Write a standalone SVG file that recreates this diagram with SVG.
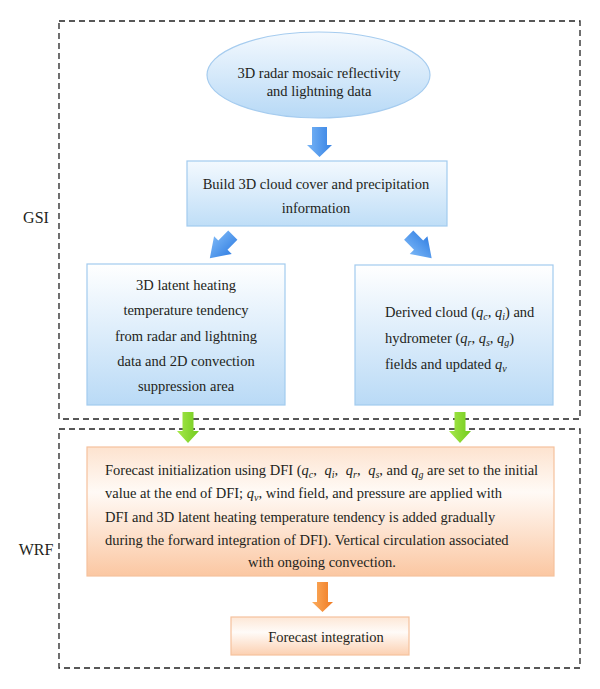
<svg xmlns="http://www.w3.org/2000/svg" width="600" height="689" viewBox="0 0 600 689">
<defs>
<linearGradient id="gBlue" x1="0" y1="0" x2="0" y2="1">
<stop offset="0" stop-color="#ffffff"/>
<stop offset="1" stop-color="#b9daf6"/>
</linearGradient>
<linearGradient id="gEll" x1="0" y1="0" x2="0" y2="1">
<stop offset="0" stop-color="#f4f9fe"/>
<stop offset="1" stop-color="#b7d9f6"/>
</linearGradient>
<linearGradient id="gBuild" x1="0" y1="0" x2="0" y2="1">
<stop offset="0" stop-color="#f3f9fe"/>
<stop offset="1" stop-color="#bfdef7"/>
</linearGradient>
<linearGradient id="gOrange" x1="0" y1="0" x2="0" y2="1">
<stop offset="0" stop-color="#fde3cf"/>
<stop offset="0.35" stop-color="#fffaf6"/>
<stop offset="1" stop-color="#fbc7a2"/>
</linearGradient>
<linearGradient id="gOrange2" x1="0" y1="0" x2="0" y2="1">
<stop offset="0" stop-color="#fde7d6"/>
<stop offset="0.4" stop-color="#fffbf8"/>
<stop offset="1" stop-color="#fcd0b1"/>
</linearGradient>
<linearGradient id="aBlue" x1="0" y1="0" x2="1" y2="0">
<stop offset="0" stop-color="#78b5f6"/>
<stop offset="1" stop-color="#3682e4"/>
</linearGradient>
<linearGradient id="aGreen" x1="0" y1="0" x2="1" y2="0">
<stop offset="0" stop-color="#a6e84a"/>
<stop offset="1" stop-color="#72cb1e"/>
</linearGradient>
<linearGradient id="aOrange" x1="0" y1="0" x2="1" y2="0">
<stop offset="0" stop-color="#fbad5e"/>
<stop offset="1" stop-color="#f07a22"/>
</linearGradient>
</defs>
<style>
text { font-family: "Liberation Serif", "Times New Roman", serif; font-size: 14.5px; fill: #231f20; }
.lbl { font-size: 16px; }
.c { text-anchor: middle; }
.q { font-style: italic; }
.sub { font-style: italic; font-size: 10px; }
.dash { fill: none; stroke: #222; stroke-width: 1.3; stroke-dasharray: 6 4; }
.bbox { stroke: #a2cbef; stroke-width: 1.2; fill: url(#gBlue); }
.obox { stroke: #f5c19d; stroke-width: 1.2; }
</style>
<rect width="600" height="689" fill="#ffffff"/>

<g id="gsi-region">
<rect class="dash" x="59" y="21" width="521" height="398"/>
<text class="lbl" x="36" y="223" text-anchor="middle">GSI</text>
</g>
<g id="wrf-region">
<rect class="dash" x="59" y="429" width="521" height="239"/>
<text class="lbl" x="36" y="555" text-anchor="middle">WRF</text>
</g>

<g id="node-radar">
<ellipse cx="318.5" cy="75" rx="111.5" ry="43" fill="url(#gEll)" stroke="#a6ccef" stroke-width="1.2"/>
<text class="c" x="319" y="78">3D radar mosaic reflectivity</text>
<text class="c" x="319" y="96">and lightning data</text>
</g>

<g id="node-build">
<rect x="187" y="161" width="260" height="65" fill="url(#gBuild)" stroke="#a2cbef" stroke-width="1.2"/>
<text class="c" x="316" y="189">Build 3D cloud cover and precipitation</text>
<text class="c" x="316" y="213">information</text>
</g>

<g id="node-latent">
<rect class="bbox" x="87" y="264" width="198" height="141"/>
<text class="c" x="186" y="290">3D latent heating</text>
<text class="c" x="186" y="315">temperature tendency</text>
<text class="c" x="186" y="341">from radar and lightning</text>
<text class="c" x="186" y="366">data and 2D convection</text>
<text class="c" x="186" y="391">suppression area</text>
</g>

<g id="node-derived">
<rect class="bbox" x="355" y="265" width="198" height="140"/>
<text x="385" y="317">Derived cloud (<tspan class="q">q</tspan><tspan class="sub" dy="3">c</tspan><tspan dy="-3">, </tspan><tspan class="q">q</tspan><tspan class="sub" dy="3">i</tspan><tspan dy="-3">) and</tspan></text>
<text x="385" y="343">hydrometer (<tspan class="q">q</tspan><tspan class="sub" dy="3">r</tspan><tspan dy="-3">, </tspan><tspan class="q">q</tspan><tspan class="sub" dy="3">s</tspan><tspan dy="-3">, </tspan><tspan class="q">q</tspan><tspan class="sub" dy="3">g</tspan><tspan dy="-3">)</tspan></text>
<text x="385" y="369">fields and updated <tspan class="q">q</tspan><tspan class="sub" dy="3">v</tspan></text>
</g>

<g id="node-dfi">
<rect class="obox" x="87" y="447" width="467" height="129" fill="url(#gOrange)"/>
<text x="105" y="475">Forecast initialization using DFI (<tspan class="q">q</tspan><tspan class="sub" dy="3">c</tspan><tspan dy="-3">, </tspan><tspan class="q" dx="4">q</tspan><tspan class="sub" dy="3">i</tspan><tspan dy="-3">, </tspan><tspan class="q" dx="4">q</tspan><tspan class="sub" dy="3">r</tspan><tspan dy="-3">, </tspan><tspan class="q" dx="4">q</tspan><tspan class="sub" dy="3">s</tspan><tspan dy="-3">, and </tspan><tspan class="q">q</tspan><tspan class="sub" dy="3">g</tspan><tspan dy="-3"> are set to the initial</tspan></text>
<text x="105" y="498">value at the end of DFI; <tspan class="q">q</tspan><tspan class="sub" dy="3">v</tspan><tspan dy="-3">, wind field, and pressure are applied with</tspan></text>
<text x="105" y="522">DFI and 3D latent heating temperature tendency is added gradually</text>
<text x="105" y="545">during the forward integration of DFI). Vertical circulation associated</text>
<text class="c" x="322" y="567">with ongoing convection.</text>
</g>

<g id="node-forecast">
<rect class="obox" x="231" y="617" width="178" height="38" fill="url(#gOrange2)"/>
<text class="c" x="326" y="642">Forecast integration</text>
</g>

<g id="connectors">
<path d="M312,127 H327 V145 H332 L319.5,157 L307,145 H312 Z" fill="url(#aBlue)"/>
<path transform="translate(221.5,246.5) rotate(45)" d="M-6.5,-16 H6.5 V-2 H12.5 L0,16.5 L-12.5,-2 H-6.5 Z" fill="url(#aBlue)"/>
<path transform="translate(420,246.5) rotate(-45)" d="M-6.5,-16 H6.5 V-2 H12.5 L0,16.5 L-12.5,-2 H-6.5 Z" fill="url(#aBlue)"/>
<path d="M182.5,412 H193.5 V431 H199 L188,443 L177,431 H182.5 Z" fill="url(#aGreen)"/>
<path d="M454.5,412 H465.5 V431 H471 L460,443 L449,431 H454.5 Z" fill="url(#aGreen)"/>
<path d="M317,582 H328 V602 H333 L322.5,612 L312,602 H317 Z" fill="url(#aOrange)"/>
</g>
</svg>
